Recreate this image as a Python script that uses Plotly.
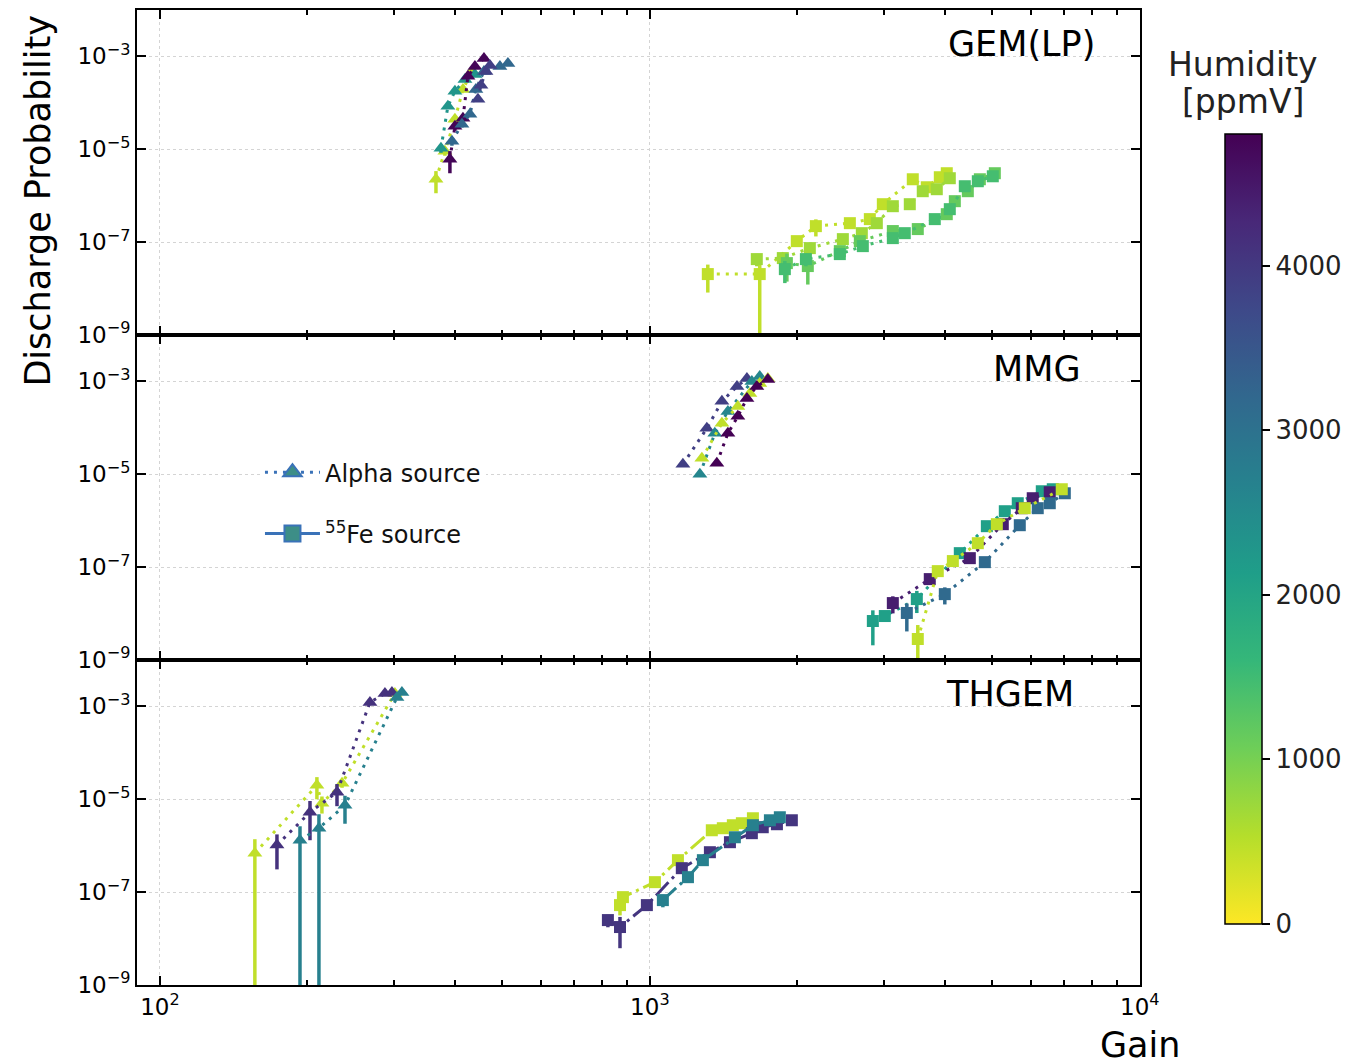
import plotly.graph_objects as go
from plotly.subplots import make_subplots

HUM_MAX = 4800

# ---------------- GEM(LP) : alpha source (triangles) ----------------
GEM_A1_GAIN = [365.9, 381.6, 400.0, 415.4, 433.2]
GEM_A1_PROB = [2.26e-6, 9.06e-6, 4.41e-5, 1.95e-4, 4.76e-4]
GEM_A1_RERR = [0.5, 0.2, 0.15, 0.1, 0.1]
GEM_A1_HUM = 450

GEM_A2_GAIN = [374.6, 387.0, 400.0, 419.3, 439.4]
GEM_A2_PROB = [1.05e-5, 8.41e-5, 1.77e-4, 3.20e-4, 4.10e-4]
GEM_A2_RERR = [0.2, 0.1, 0.1, 0.1, 0.1]
GEM_A2_HUM = 2300

GEM_A3_GAIN = [390.7, 400.0, 415.4, 425.2, 439.4, 458.5]
GEM_A3_PROB = [6.09e-6, 3.13e-5, 4.65e-5, 3.72e-4, 6.09e-4, 9.06e-4]
GEM_A3_RERR = [0.5, 0.2, 0.15, 0.1, 0.1, 0.1]
GEM_A3_HUM = 4750

GEM_A4_GAIN = [394.4, 413.4, 429.2, 441.4, 458.5, 494.2, 513.1]
GEM_A4_PROB = [1.49e-5, 3.45e-5, 5.66e-5, 1.95e-4, 4.76e-4, 6.09e-4, 7.06e-4]
GEM_A4_RERR = [0.2, 0.15, 0.1, 0.1, 0.1, 0.1, 0.1]
GEM_A4_HUM = 3200

GEM_A5_GAIN = [445.7, 452.0, 462.8, 471.6]
GEM_A5_PROB = [1.19e-4, 2.38e-4, 4.76e-4, 6.40e-4]
GEM_A5_RERR = [0.1, 0.1, 0.1, 0.1]
GEM_A5_HUM = 3900

# ---------------- GEM(LP) : 55Fe source (squares) ----------------
GEM_F1_GAIN = [1313, 1676, 1995, 2182, 2560, 2812, 2989, 3441, 3675, 3907, 4037]
GEM_F1_PROB = [2.05e-8, 2.05e-8, 1.05e-7, 2.21e-7, 2.56e-7, 3.13e-7, 6.56e-7, 2.26e-6, 1.52e-6, 2.50e-6, 3.05e-6]
GEM_F1_RERR = [0.6, 1.0, 0.2, 0.4, 0.1, 0.1, 0.1, 0.1, 0.1, 0.1, 0.1]
GEM_F1_HUM = 450

GEM_F2_GAIN = [1653, 1868, 2121, 2477, 2708, 2906, 3133, 3393, 3606, 3852, 4095]
GEM_F2_PROB = [4.31e-8, 4.53e-8, 7.43e-8, 1.16e-7, 1.56e-7, 2.56e-7, 5.94e-7, 6.56e-7, 1.25e-6, 1.38e-6, 2.38e-6]
GEM_F2_RERR = [0.3, 0.3, 0.3, 0.2, 0.1, 0.1, 0.1, 0.1, 0.1, 0.1, 0.1]
GEM_F2_HUM = 700

GEM_F3_GAIN = [1904, 2101, 2442, 2683, 3133, 3523, 4037, 4193, 4457, 4716, 5060]
GEM_F3_PROB = [3.53e-8, 3.05e-8, 6.40e-8, 1.05e-7, 1.73e-7, 1.91e-7, 4.00e-7, 7.62e-7, 1.25e-6, 2.26e-6, 3.05e-6]
GEM_F3_RERR = [0.6, 0.6, 0.3, 0.2, 0.1, 0.1, 0.1, 0.1, 0.1, 0.1, 0.1]
GEM_F3_HUM = 1150

GEM_F4_GAIN = [1886, 2082, 2442, 2721, 3133, 3314, 3816, 4095, 4394, 4671, 5012]
GEM_F4_PROB = [2.62e-8, 4.31e-8, 5.52e-8, 8.20e-8, 1.22e-7, 1.56e-7, 3.13e-7, 5.13e-7, 1.60e-6, 2.05e-6, 2.62e-6]
GEM_F4_RERR = [0.5, 0.3, 0.2, 0.1, 0.1, 0.1, 0.1, 0.1, 0.1, 0.1, 0.1]
GEM_F4_HUM = 1450

# ---------------- MMG : alpha source ----------------
MMG_A1_GAIN = [1168, 1307, 1403, 1506, 1578]
MMG_A1_PROB = [1.64e-5, 9.75e-5, 3.72e-4, 7.80e-4, 1.16e-3]
MMG_A1_RERR = [0.1, 0.1, 0.1, 0.1, 0.1]
MMG_A1_HUM = 3900

MMG_A2_GAIN = [1265, 1357, 1443, 1615, 1676]
MMG_A2_PROB = [1.0e-5, 7.62e-5, 2.26e-4, 1.0e-3, 1.28e-3]
MMG_A2_RERR = [0.1, 0.1, 0.1, 0.1, 0.1]
MMG_A2_HUM = 2600

MMG_A3_GAIN = [1277, 1403, 1512, 1600, 1676, 1741]
MMG_A3_PROB = [2.21e-5, 1.25e-4, 2.90e-4, 5.52e-4, 9.06e-4, 1.16e-3]
MMG_A3_RERR = [0.1, 0.1, 0.1, 0.1, 0.1, 0.1]
MMG_A3_HUM = 450

MMG_A4_GAIN = [1370, 1443, 1512, 1578, 1653, 1741]
MMG_A4_PROB = [1.73e-5, 7.62e-5, 1.77e-4, 4.31e-4, 7.80e-4, 1.10e-3]
MMG_A4_RERR = [0.1, 0.1, 0.1, 0.1, 0.1, 0.1]
MMG_A4_HUM = 4800

# ---------------- MMG : 55Fe source ----------------
MMG_F1_GAIN = [2852, 3017, 3507, 4292, 4874, 5303, 5636, 6310, 6644]
MMG_F1_PROB = [6.90e-9, 8.84e-9, 2.05e-8, 2.00e-7, 7.62e-7, 1.60e-6, 2.38e-6, 4.31e-6, 4.76e-6]
MMG_F1_RERR = [0.7, 0.2, 0.5, 0.2, 0.1, 0.1, 0.1, 0.1, 0.1]
MMG_F1_HUM = 2100

MMG_F2_GAIN = [3133, 3727, 4499, 5253, 5744, 6047, 6551]
MMG_F2_PROB = [1.68e-8, 5.52e-8, 1.56e-7, 8.41e-7, 1.86e-6, 3.05e-6, 4.10e-6]
MMG_F2_RERR = [0.4, 0.2, 0.1, 0.1, 0.1, 0.1, 0.1]
MMG_F2_HUM = 4400

MMG_F3_GAIN = [3346, 4000, 4828, 5690, 6191, 6551, 7031]
MMG_F3_PROB = [1.03e-8, 2.62e-8, 1.28e-7, 8.00e-7, 1.86e-6, 2.38e-6, 3.90e-6]
MMG_F3_RERR = [0.6, 0.4, 0.2, 0.1, 0.1, 0.1, 0.1]
MMG_F3_HUM = 3150

MMG_F4_GAIN = [3523, 3870, 4154, 4671, 5108, 5825, 6932]
MMG_F4_PROB = [2.83e-9, 8.20e-8, 1.35e-7, 3.28e-7, 8.41e-7, 1.86e-6, 4.76e-6]
MMG_F4_RERR = [1.0, 0.2, 0.1, 0.1, 0.1, 0.1, 0.1]
MMG_F4_HUM = 450

# ---------------- THGEM : alpha source ----------------
THG_A1_GAIN = [156.2, 209.1, 214.1, 235.3, 301.7]
THG_A1_PROB = [6.90e-7, 2.00e-5, 8.20e-6, 2.21e-5, 1.91e-3]
THG_A1_RERR = [1.0, 0.5, 0.4, 0.2, 0.1]
THG_A1_HUM = 450

THG_A2_GAIN = [173.3, 202.4, 229.8, 268.3, 287.9, 297.5]
THG_A2_PROB = [1.03e-6, 5.25e-6, 1.42e-5, 1.22e-3, 1.91e-3, 2.00e-3]
THG_A2_RERR = [0.7, 0.75, 0.5, 0.1, 0.1, 0.1]
THG_A2_HUM = 4100

THG_A3_GAIN = [193.1, 211.1, 238.6, 304.6, 311.8]
THG_A3_PROB = [1.31e-6, 2.38e-6, 7.43e-6, 1.56e-3, 2.00e-3]
THG_A3_RERR = [1.0, 1.0, 0.6, 0.1, 0.1]
THG_A3_HUM = 2700

# ---------------- THGEM : 55Fe source ----------------
THG_F1_GAIN = [869, 881, 1024, 1141, 1338, 1409, 1477, 1541, 1623]
THG_F1_PROB = [5.25e-8, 7.80e-8, 1.64e-7, 4.88e-7, 2.15e-6, 2.38e-6, 2.76e-6, 3.05e-6, 3.90e-6]
THG_F1_RERR = [0.4, 0.2, 0.1, 0.1, 0.1, 0.1, 0.1, 0.1, 0.1]
THG_F1_HUM = 450

THG_F2_GAIN = [821, 869, 986, 1162, 1326, 1457, 1615, 1700, 1817, 1949]
THG_F2_PROB = [2.50e-8, 1.77e-8, 5.25e-8, 3.28e-7, 7.24e-7, 1.19e-6, 1.86e-6, 2.50e-6, 2.90e-6, 3.53e-6]
THG_F2_RERR = [0.3, 0.65, 0.2, 0.1, 0.1, 0.1, 0.1, 0.1, 0.1, 0.1]
THG_F2_HUM = 4050

THG_F3_GAIN = [1063, 1196, 1283, 1491, 1623, 1758, 1842]
THG_F3_PROB = [6.73e-8, 2.10e-7, 4.88e-7, 1.52e-6, 2.76e-6, 3.53e-6, 4.10e-6]
THG_F3_RERR = [0.3, 0.1, 0.1, 0.1, 0.1, 0.1, 0.1]
THG_F3_HUM = 2700

PANEL_LABELS = ["GEM(LP)", "MMG", "THGEM"]
X_TICKS = [100, 1000, 10000]
X_TICKTEXT = ["10<sup>2</sup>", "10<sup>3</sup>", "10<sup>4</sup>"]
X_MINOR = [200, 300, 400, 500, 600, 700, 800, 900,
           2000, 3000, 4000, 5000, 6000, 7000, 8000, 9000]
Y_TICKS = [1e-9, 1e-7, 1e-5, 1e-3]
Y_TICKTEXT = ["10<sup>\u22129</sup>", "10<sup>\u22127</sup>", "10<sup>\u22125</sup>", "10<sup>\u22123</sup>"]
CB_TICKS = [0, 1000, 2000, 3000, 4000]

# (row, kind, gain, prob, rel.err, humidity)
SERIES = [
    (1, "alpha", GEM_A1_GAIN, GEM_A1_PROB, GEM_A1_RERR, GEM_A1_HUM),
    (1, "alpha", GEM_A2_GAIN, GEM_A2_PROB, GEM_A2_RERR, GEM_A2_HUM),
    (1, "alpha", GEM_A3_GAIN, GEM_A3_PROB, GEM_A3_RERR, GEM_A3_HUM),
    (1, "alpha", GEM_A4_GAIN, GEM_A4_PROB, GEM_A4_RERR, GEM_A4_HUM),
    (1, "alpha", GEM_A5_GAIN, GEM_A5_PROB, GEM_A5_RERR, GEM_A5_HUM),
    (1, "fe", GEM_F1_GAIN, GEM_F1_PROB, GEM_F1_RERR, GEM_F1_HUM),
    (1, "fe", GEM_F2_GAIN, GEM_F2_PROB, GEM_F2_RERR, GEM_F2_HUM),
    (1, "fe", GEM_F3_GAIN, GEM_F3_PROB, GEM_F3_RERR, GEM_F3_HUM),
    (1, "fe", GEM_F4_GAIN, GEM_F4_PROB, GEM_F4_RERR, GEM_F4_HUM),
    (2, "alpha", MMG_A1_GAIN, MMG_A1_PROB, MMG_A1_RERR, MMG_A1_HUM),
    (2, "alpha", MMG_A2_GAIN, MMG_A2_PROB, MMG_A2_RERR, MMG_A2_HUM),
    (2, "alpha", MMG_A3_GAIN, MMG_A3_PROB, MMG_A3_RERR, MMG_A3_HUM),
    (2, "alpha", MMG_A4_GAIN, MMG_A4_PROB, MMG_A4_RERR, MMG_A4_HUM),
    (2, "fe", MMG_F1_GAIN, MMG_F1_PROB, MMG_F1_RERR, MMG_F1_HUM),
    (2, "fe", MMG_F2_GAIN, MMG_F2_PROB, MMG_F2_RERR, MMG_F2_HUM),
    (2, "fe", MMG_F3_GAIN, MMG_F3_PROB, MMG_F3_RERR, MMG_F3_HUM),
    (2, "fe", MMG_F4_GAIN, MMG_F4_PROB, MMG_F4_RERR, MMG_F4_HUM),
    (3, "alpha", THG_A1_GAIN, THG_A1_PROB, THG_A1_RERR, THG_A1_HUM),
    (3, "alpha", THG_A2_GAIN, THG_A2_PROB, THG_A2_RERR, THG_A2_HUM),
    (3, "alpha", THG_A3_GAIN, THG_A3_PROB, THG_A3_RERR, THG_A3_HUM),
    (3, "fe_thgem", THG_F1_GAIN, THG_F1_PROB, THG_F1_RERR, THG_F1_HUM),
    (3, "fe_thgem", THG_F2_GAIN, THG_F2_PROB, THG_F2_RERR, THG_F2_HUM),
    (3, "fe_thgem", THG_F3_GAIN, THG_F3_PROB, THG_F3_RERR, THG_F3_HUM),
]

VIRIDIS = ['#440154', '#482878', '#3e4989', '#31688e', '#26828e',
           '#1f9e89', '#35b779', '#6ece58', '#b5de2b', '#fde725']


def _rgb(h):
    h = h.lstrip('#')
    return [int(h[i:i + 2], 16) for i in (0, 2, 4)]


def hum_color(h):
    t = min(max(1 - h / HUM_MAX, 0.0), 1.0)
    n = len(VIRIDIS) - 1
    i = min(int(t * n), n - 1)
    f = t * n - i
    a, b = _rgb(VIRIDIS[i]), _rgb(VIRIDIS[i + 1])
    c = [round(a[k] + (b[k] - a[k]) * f) for k in range(3)]
    return f"rgb({c[0]},{c[1]},{c[2]})"


CB_SCALE = [[k / 9, VIRIDIS[9 - k]] for k in range(10)]

FONT = "DejaVu Sans"
DOT = "3px,6px"
DASHDOT = "18px,5px,3px,5px"

fig = make_subplots(rows=3, cols=1, shared_xaxes=True, vertical_spacing=0)

for row, kind, gain, prob, rerr, hum in SERIES:
    col = hum_color(hum)
    up = [r * p for r, p in zip(rerr, prob)]
    dn = [min(r, 0.99999) * p for r, p in zip(rerr, prob)]
    if kind == "alpha":
        sym, size, dash = "triangle-up", 13, DOT
    elif kind == "fe":
        sym, size, dash = "square", 12, DOT
    else:
        sym, size, dash = "square", 12, DASHDOT
    fig.add_trace(go.Scatter(
        x=gain, y=prob, mode="lines+markers",
        line=dict(color=col, width=3, dash=dash),
        marker=dict(symbol=sym, size=size, color=col, line=dict(width=0)),
        error_y=dict(type="data", symmetric=False, array=up, arrayminus=dn,
                     color=col, thickness=3.5, width=0),
        showlegend=False, hoverinfo="skip"), row=row, col=1)

# legend entries
LEG_FILL = "#3d8e87"
LEG_EDGE = "#3a72b8"
fig.add_trace(go.Scatter(
    x=[None], y=[None], mode="lines+markers", name="Alpha source",
    legendgroup="a",
    line=dict(color=LEG_EDGE, width=3, dash=DOT),
    marker=dict(symbol="triangle-up", size=16, color=LEG_FILL,
                line=dict(color=LEG_EDGE, width=2))), row=2, col=1)
fig.add_trace(go.Scatter(
    x=[None], y=[None], mode="lines+markers", name="<sup>55</sup>Fe source",
    legendgroup="b",
    line=dict(color=LEG_EDGE, width=3),
    marker=dict(symbol="square", size=16, color=LEG_FILL,
                line=dict(color=LEG_EDGE, width=2))), row=2, col=1)

# colorbar carrier
fig.add_trace(go.Scatter(
    x=[None], y=[None], mode="markers", showlegend=False, hoverinfo="skip",
    marker=dict(color=[0], colorscale=CB_SCALE, cmin=0, cmax=HUM_MAX,
                showscale=True,
                colorbar=dict(x=1.0847, xanchor="left", xpad=0,
                              y=0.4678, yanchor="middle", ypad=0,
                              thickness=37, len=790, lenmode="pixels",
                              outlinewidth=1.5, outlinecolor="black",
                              ticks="outside", ticklen=8, tickwidth=1.5,
                              tickcolor="black", tickvals=CB_TICKS,
                              tickfont=dict(size=26, color="#222", family=FONT)))),
    row=3, col=1)

for r in (1, 2, 3):
    fig.update_xaxes(
        type="log", range=[1.9531, 4.0005],
        tickvals=X_TICKS, ticktext=X_TICKTEXT, showticklabels=(r == 3),
        tickfont=dict(size=23, color="black", family=FONT),
        ticks="inside", ticklen=9, tickwidth=1.5, tickcolor="black",
        showline=True, linecolor="black", linewidth=2, mirror="ticks",
        showgrid=True, gridcolor="#d4d4d4", griddash="dot", gridwidth=1,
        zeroline=False,
        minor=dict(tickvals=X_MINOR, ticks="inside", ticklen=5, tickwidth=1.5,
                   tickcolor="black", showgrid=False),
        row=r, col=1)
    fig.update_yaxes(
        type="log", range=[-9.0005, -2.0],
        tickvals=Y_TICKS, ticktext=Y_TICKTEXT,
        tickfont=dict(size=23, color="black", family=FONT),
        ticks="inside", ticklen=9, tickwidth=1.5, tickcolor="black",
        showline=True, linecolor="black", linewidth=2, mirror="ticks",
        showgrid=True, gridcolor="#d4d4d4", griddash="dot", gridwidth=1,
        zeroline=False, row=r, col=1)

annotations = [
    dict(text=PANEL_LABELS[0], x=0.957, y=0.9652, xanchor="right", yanchor="middle"),
    dict(text=PANEL_LABELS[1], x=0.943, y=0.6315, xanchor="right", yanchor="middle"),
    dict(text=PANEL_LABELS[2], x=0.936, y=0.2989, xanchor="right", yanchor="middle"),
]
for a in annotations:
    a.update(xref="paper", yref="paper", showarrow=False,
             font=dict(size=35, color="black", family=FONT))
annotations += [
    dict(text="Discharge Probability", x=-0.0987, y=0.8035, xref="paper", yref="paper",
         textangle=-90, showarrow=False, xanchor="center", yanchor="middle",
         font=dict(size=35, color="black", family=FONT)),
    dict(text="Gain", x=1.0, y=-0.0614, xref="paper", yref="paper",
         showarrow=False, xanchor="center", yanchor="middle",
         font=dict(size=35, color="black", family=FONT)),
    dict(text="Humidity", x=1.1027, y=0.9437, xref="paper", yref="paper",
         showarrow=False, xanchor="center", yanchor="middle",
         font=dict(size=33, color="#222", family=FONT)),
    dict(text="[ppmV]", x=1.1027, y=0.9058, xref="paper", yref="paper",
         showarrow=False, xanchor="center", yanchor="middle",
         font=dict(size=33, color="#222", family=FONT)),
]

fig.update_layout(
    width=1354, height=1053,
    margin=dict(l=129, r=222, t=0, b=76, pad=0),
    paper_bgcolor="white", plot_bgcolor="white",
    font=dict(family=FONT, color="black"),
    annotations=annotations,
    showlegend=True,
    legend=dict(x=0.1226, y=0.5486, xanchor="left", yanchor="top",
                bgcolor="white", borderwidth=0,
                font=dict(size=24, color="#111", family=FONT),
                tracegroupgap=27, itemsizing="trace", itemwidth=55),
)

fig.write_html("out.html")
